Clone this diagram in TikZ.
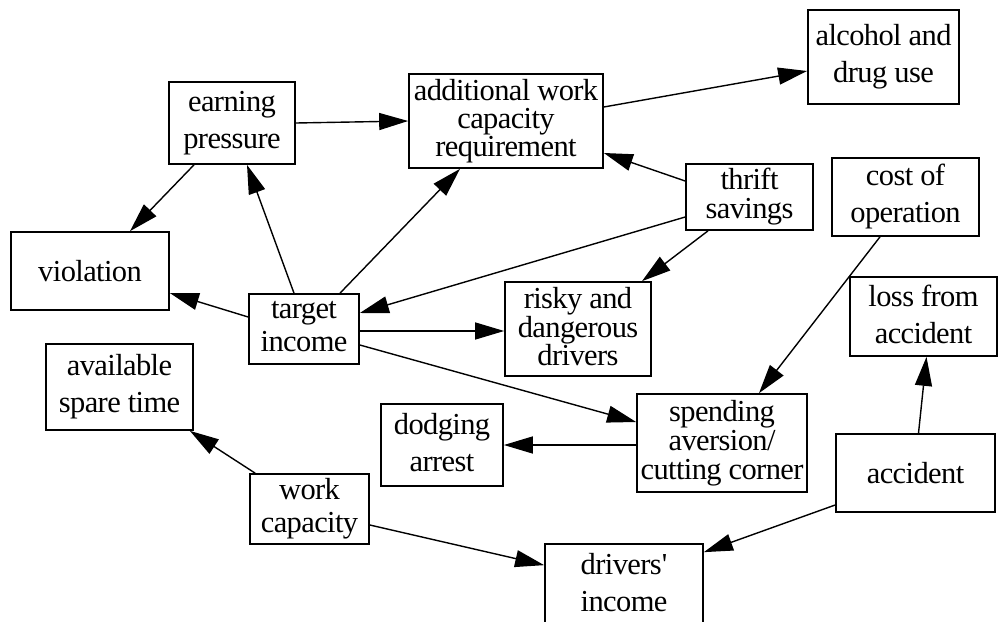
\documentclass[tikz,border=0pt]{standalone}
\usepackage{fontspec}
\setmainfont{Liberation Serif}[LetterSpace=-2]
\usetikzlibrary{arrows.meta}
\begin{document}
\begin{tikzpicture}[x=1pt,y=-1pt,
  box/.style={draw, line width=1.7pt, inner sep=0pt, align=center,
    font=\fontsize{30.5}{37}\selectfont,
    execute at begin node=\rule{0pt}{25pt},
    execute at end node=\rule[-5pt]{0pt}{5pt}},
  tight/.style={font=\fontsize{30.5}{28}\selectfont},
  mid/.style={font=\fontsize{30.5}{33}\selectfont},
  link/.style={line width=1.4pt, -{Triangle[length=29pt,width=17pt]}}]
\useasboundingbox (0,0) rectangle (998,621);
\clip (0,0) rectangle (998,621);
\fill[white] (0,0) rectangle (998,621);

% factors
\node[box, minimum width=126pt, minimum height=82pt] (earning) at (232,123) {earning\\pressure};
\node[box, tight, minimum width=194pt, minimum height=94pt] (additional) at (506,121) {additional work\\capacity\\requirement};
\node[box, minimum width=151pt, minimum height=94pt] (alcohol) at (883.5,57) {alcohol and\\drug use};
\node[box, font=\fontsize{30.5}{29}\selectfont, minimum width=127pt, minimum height=66pt] (thrift) at (749.5,197) {thrift\\savings};
\node[box, minimum width=147pt, minimum height=78pt] (cost) at (905.5,197) {cost of\\operation};
\node[box, minimum width=158pt, minimum height=78pt] (violation) at (90,271) {violation};
\node[box, mid, minimum width=110pt, minimum height=70pt] (target) at (304,329) {target\\income};
\node[box, font=\fontsize{30.5}{27}\selectfont, minimum width=146pt, minimum height=94pt] (risky) at (578,329) {risky and\\dangerous\\drivers};
\node[box, minimum width=147pt, minimum height=79pt] (loss) at (923.5,316.5) {loss from\\accident};
\node[box, minimum width=147pt, minimum height=86pt] (available) at (119.5,387) {available\\spare time};
\node[box, mid, minimum width=119pt, minimum height=70pt] (work) at (309.5,509) {work\\capacity};
\node[box, minimum width=122pt, minimum height=82pt] (dodging) at (442,445) {dodging\\arrest};
\node[box, font=\fontsize{30.5}{29}\selectfont, minimum width=170pt, minimum height=98pt] (spending) at (722,443) {spending\\aversion/\\cutting corner};
\node[box, minimum width=159pt, minimum height=78pt] (accident) at (915.5,473) {accident};
\node[box, minimum width=158pt, minimum height=81pt] (drivers) at (624,584.5) {drivers\textquotesingle\\income};

% influences
\draw[link] (earning.east) -- (additional.west);
\draw[link] ([xshift=-38pt]earning.south) -- ([xshift=40pt]violation.north);
\draw[link] ([xshift=-10pt]target.north) -- ([xshift=15pt]earning.south);
\draw[link] ([xshift=36pt]target.north) -- ([xshift=-46pt]additional.south);
\draw[link] ([yshift=12pt]target.west) -- ([yshift=-22pt]violation.east);
\draw[link] ([yshift=-20pt]thrift.west) -- ([yshift=16pt]target.east);
\draw[link] ([yshift=16pt]thrift.west) -- ([yshift=-32pt]additional.east);
\draw[link] ([xshift=-41.5pt]thrift.south) -- ([xshift=64pt]risky.north);
\draw[link] ([yshift=14pt]additional.east) -- ([yshift=-14pt]alcohol.west);
\draw[link] ([xshift=-25.5pt]cost.south) -- ([xshift=37pt]spending.north);
\draw[link] ([yshift=-2pt]target.east) -- ([yshift=-2pt]risky.west);
\draw[link] ([yshift=-16pt]target.east) -- ([yshift=21pt]spending.west);
\draw[link] ([yshift=-2pt]spending.west) -- (dodging.east);
\draw[link] ([xshift=3pt]accident.north) -- ([xshift=3pt]loss.south);
\draw[link] ([yshift=-32pt]accident.west) -- ([yshift=-9pt]drivers.north east);
\draw[link] ([xshift=6pt]work.north west) -- ([xshift=-4pt]available.south east);
\draw[link] ([yshift=-16pt]work.east) -- ([yshift=-22pt]drivers.north west);
\end{tikzpicture}
\end{document}
